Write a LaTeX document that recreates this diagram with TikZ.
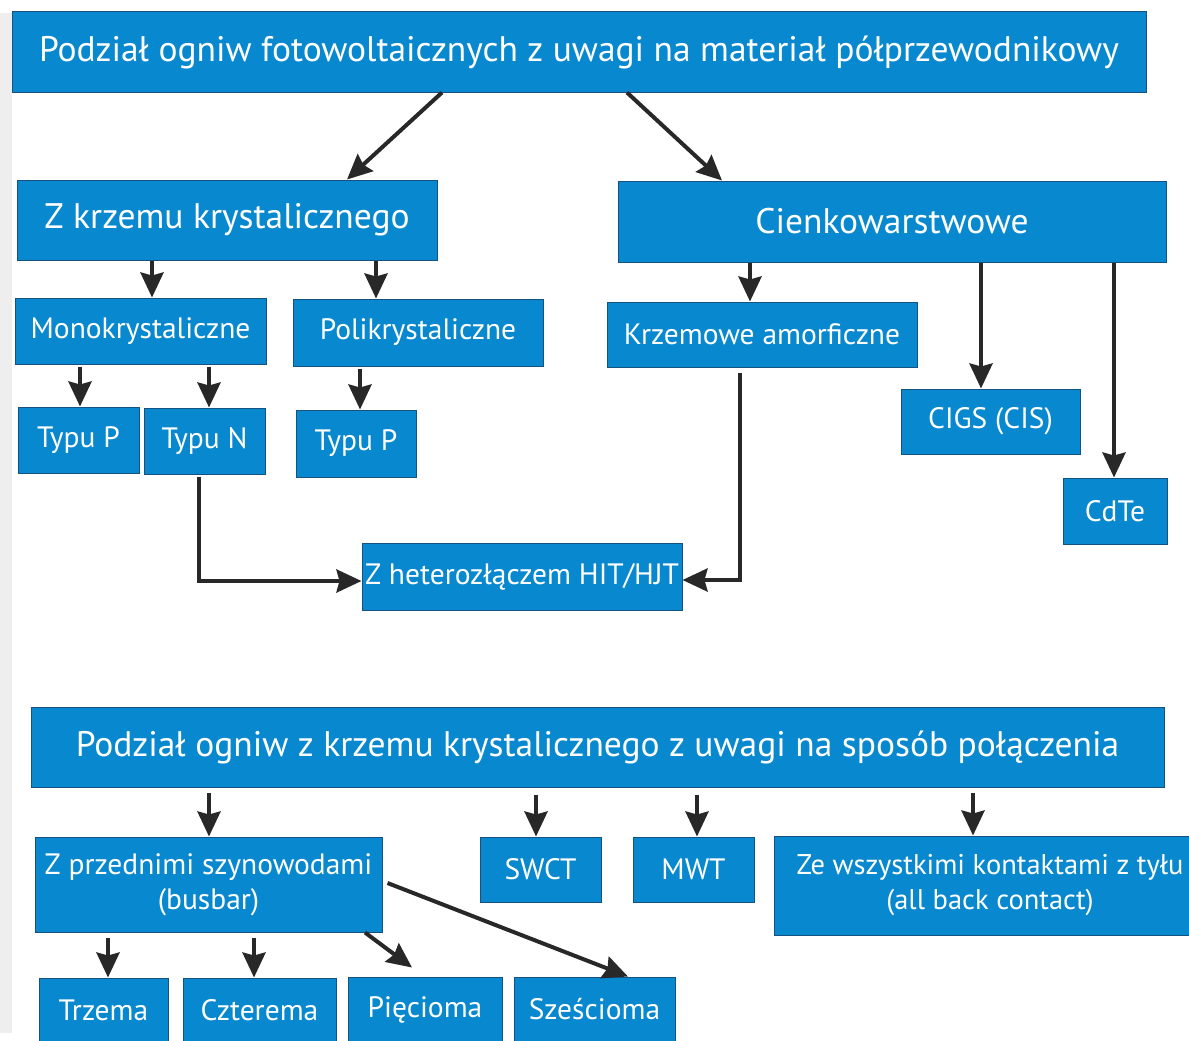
\documentclass[tikz,border=0pt]{standalone}
\usepackage{fontspec}
\setmainfont{PT Sans}
\usetikzlibrary{arrows.meta}

\definecolor{niebieski}{RGB}{8,136,206}
\definecolor{ramka}{RGB}{22,82,128}
\definecolor{strzalka}{RGB}{40,40,40}
\definecolor{szary}{RGB}{238,238,238}

\def\fduzy{\fontsize{35.5}{40}\selectfont}
\def\fsredni{\fontsize{29.5}{35}\selectfont}
\def\fmaly{\fontsize{29.5}{34}\selectfont}

\tikzset{
    blok/.style={draw=ramka, line width=1pt, fill=niebieski, text=white,
        inner sep=0pt, align=center},
    strz/.style={draw=strzalka, line width=4pt,
        -{Stealth[length=25pt,width=23pt,inset=3pt]}},
}

\begin{document}
\begin{tikzpicture}[x=1pt, y=-1pt]

        \useasboundingbox (0,0) rectangle (1189,1041);
        \fill[szary] (0,13) rectangle (12,1033);

        % gorna czesc
        \node[blok, minimum width=1134, minimum height=80, font=\fduzy] (podzial) at (579,52)
            {Podział ogniw fotowoltaicznych z uwagi na materiał półprzewodnikowy};

        \node[blok, minimum width=420, minimum height=80, font=\fduzy] (krzem) at (227,220) {Z krzemu krystalicznego};
        \node[blok, minimum width=548, minimum height=81, font=\fduzy] (cienko) at (892,221.5) {Cienkowarstwowe};

        \node[blok, minimum width=251, minimum height=66, font=\fmaly] (mono) at (140.5,331) {Monokrystaliczne};
        \node[blok, minimum width=250, minimum height=67, font=\fmaly] (poli) at (418,332.5) {Polikrystaliczne};
        \node[blok, minimum width=310, minimum height=65, font=\fmaly] (amorf) at (762,334.5) {Krzemowe amorficzne};
        \node[blok, minimum width=179, minimum height=65, font=\fmaly] (cigs) at (990.5,421.5) {CIGS (CIS)};
        \node[blok, minimum width=104, minimum height=66, font=\fmaly] (cdte) at (1115,511) {CdTe};

        \node[blok, minimum width=121, minimum height=66, font=\fmaly] (typp) at (78.5,440) {Typu P};
        \node[blok, minimum width=121, minimum height=66, font=\fmaly] (typn) at (204.5,441) {Typu N};
        \node[blok, minimum width=120, minimum height=67, font=\fmaly] (typpb) at (356,443.5) {Typu P};

        \node[blok, minimum width=320, minimum height=67, font=\fmaly] (hetero) at (522,576.5) {Z heterozłączem HIT/HJT};

        % dolna czesc
        \node[blok, minimum width=1133, minimum height=80, font=\fduzy] (polaczenie) at (597.5,747)
            {Podział ogniw z krzemu krystalicznego z uwagi na sposób połączenia};

        \node[blok, minimum width=347, minimum height=95, font=\fsredni] (busbar) at (208.5,884.5)
            {Z przednimi szynowodami\\(busbar)};
        \node[blok, minimum width=121, minimum height=65, font=\fsredni] (swct) at (540.5,869.5) {SWCT};
        \node[blok, minimum width=121, minimum height=65, font=\fsredni] (mwt) at (693.5,869.5) {MWT};
        \node[blok, minimum width=432, minimum height=99, font=\fontsize{28.5}{35}\selectfont] (tyl) at (990,885.5)
            {Ze wszystkimi kontaktami z tyłu\\(all back contact)};

        \node[blok, minimum width=129, minimum height=65, font=\fsredni] (trzema) at (103.5,1010.5) {Trzema};
        \node[blok, minimum width=153, minimum height=65, font=\fsredni] (czterema) at (259.5,1010.5) {Czterema};
        \node[blok, minimum width=154, minimum height=65, font=\fsredni] (piecioma) at (425,1009.5) {Pięcioma};
        \node[blok, minimum width=161, minimum height=65, font=\fsredni] (szescioma) at (594.5,1009.5) {Sześcioma};

        % strzalki
        \draw[strz] (podzial.south -| 442,0) -- (krzem.north -| 347,0);
        \draw[strz] (podzial.south -| 627,0) -- (cienko.north -| 722,0);
        \draw[strz] (krzem.south -| 152,0) -- (mono.north -| 152,0);
        \draw[strz] (krzem.south -| 376,0) -- (poli.north -| 376,0);
        \draw[strz] (cienko.south -| 750,0) -- (amorf.north -| 750,0);
        \draw[strz] (cienko.south -| 981,0) -- (cigs.north -| 981,0);
        \draw[strz] (cienko.south -| 1114,0) -- (cdte.north -| 1114,0);
        \draw[strz] ([yshift=-2pt]mono.south -| 80,0) -- (typp.north -| 80,0);
        \draw[strz] ([yshift=-2pt]mono.south -| 209,0) -- (typn.north -| 209,0);
        \draw[strz] ([yshift=-2pt]poli.south -| 360,0) -- (typpb.north -| 360,0);
        \draw[strz] ([yshift=-2pt]typn.south -| 199,0) |- ([yshift=-4.5pt]hetero.west);
        \draw[strz] ([yshift=-5pt]amorf.south -| 740,0) |- ([yshift=-3.5pt]hetero.east);

        \draw[strz] ([yshift=-5pt]polaczenie.south -| 209,0) -- (busbar.north -| 209,0);
        \draw[strz] ([yshift=-7pt]polaczenie.south -| 536,0) -- (swct.north -| 536,0);
        \draw[strz] ([yshift=-7pt]polaczenie.south -| 697,0) -- (mwt.north -| 697,0);
        \draw[strz] ([yshift=-5pt]polaczenie.south -| 973,0) -- (tyl.north -| 973,0);
        \draw[strz] ([yshift=-5pt]busbar.south -| 108,0) -- (trzema.north -| 108,0);
        \draw[strz] ([yshift=-5pt]busbar.south -| 254,0) -- (czterema.north -| 254,0);
        \draw[strz] (busbar.south -| 365,0) -- ([yshift=9pt]piecioma.north -| 412,0);
        \draw[strz] ([xshift=5pt]busbar.east |- 0,883) -- (szescioma.north -| 628,0);
    \end{tikzpicture}
\end{document}
